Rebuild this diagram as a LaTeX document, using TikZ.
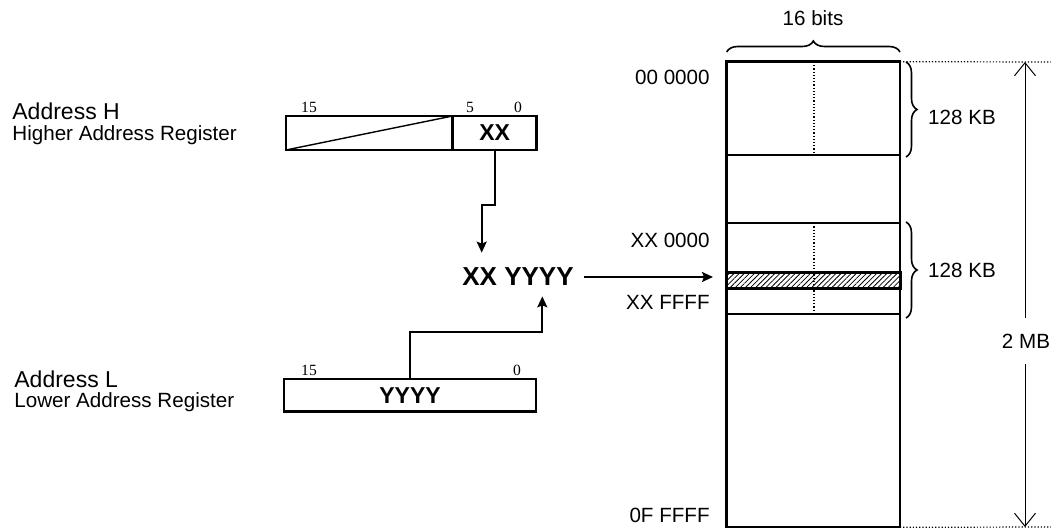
\documentclass[tikz,border=0pt]{standalone}
\usepackage{fontspec}
\setmainfont{Liberation Sans}
\newfontfamily\bitfont{Liberation Serif}
\usetikzlibrary{arrows.meta,decorations.pathreplacing,patterns.meta}
\begin{document}
\begin{tikzpicture}[x=0.5pt,y=-0.5pt,line join=miter,
  regbox/.style={draw,line width=1.4pt,inner sep=0pt,outer sep=0pt,minimum height=17pt},
  bitnum/.style={font=\bitfont\fontsize{7.8}{8}\selectfont,inner sep=1pt},
  lbl/.style={font=\fontsize{10.3}{12}\selectfont,inner sep=1pt},
  big/.style={font=\fontsize{11.5}{13}\selectfont\bfseries},
  arr/.style={line width=1pt,-{Stealth[length=5.5pt,width=5pt,inset=1pt]}},
  dimarr/.style={line width=0.5pt,{Straight Barb[length=6.5pt,width=10.5pt]}-{Straight Barb[length=6.5pt,width=10.5pt]}},
  brc/.style={decorate,decoration={brace,amplitude=5.5pt},line width=0.8pt},
  memdots/.style={densely dotted,line width=0.6pt},
  memline/.style={line width=0.9pt}]
  \useasboundingbox (0,0) rectangle (1051,529);
  \node[lbl,anchor=base west,font=\fontsize{11.5}{13}\selectfont] (hname) at (10,120) {Address H};
  \node[lbl,anchor=base west] (hdesc) at (10,141) {Higher Address Register};
  \node[lbl,anchor=base west,font=\fontsize{11.5}{13}\selectfont] (lname) at (12,388) {Address L};
  \node[lbl,anchor=base west] (ldesc) at (12,408) {Lower Address Register};
  \node[regbox,minimum width=83.3pt] (hhi) at (369.3,133) {};
  \node[regbox,big,minimum width=42pt] (xx) at (494.7,133) {XX};
  \draw[line width=0.7pt] (hhi.south west) -- (hhi.north east);
  \node[bitnum] (h15) at (309,107) {15};
  \node[bitnum] (h5) at (470,107) {5};
  \node[bitnum] (h0) at (518,107) {0};
  \node[regbox,big,minimum width=126pt,minimum height=16.3pt] (lo) at (410,395.3) {YYYY};
  \node[bitnum] (l15) at (309,370) {15};
  \node[bitnum] (l0) at (517,370) {0};
  \node[font=\fontsize{13}{15}\selectfont\bfseries,inner xsep=5pt,inner ysep=5pt] (sum) at (518,277) {XX YYYY};
  \draw[arr] (xx.south) -- ++(0,55) -| ([xshift=-18.15pt,yshift=2.5pt]sum.north);
  \draw[arr] (lo.north) -- ++(0,-47.3) -| ([xshift=12.15pt]sum.south);
  \node[draw,line width=1.2pt,inner sep=0pt,outer sep=0pt,minimum width=86.67pt,minimum height=232.8pt] (mem) at (813.3,294.5) {};
  \draw[memline] (726.7,155) -- (900,155);
  \draw[memline] (726.7,223.3) -- (900,223.3);
  \draw[memline] (726.7,314) -- (900,314);
  \draw[memdots] (814,62) -- (814,155);
  \draw[memdots] (814,223.3) -- (814,314);
  \node[draw,line width=1.3pt,inner sep=0pt,outer sep=0pt,minimum width=87pt,minimum height=7.8pt,
    pattern={Lines[angle=45,distance=1.8pt,line width=0.4pt]}] (band) at (814,280.5) {};
  \draw[arr,shorten >=7pt] (sum.east) -- (sum.east -| band.west);
  \node[lbl,anchor=east] (a00) at (712,77) {00 0000};
  \node[lbl,anchor=east] (ax0) at (712,240) {XX 0000};
  \node[lbl,anchor=east] (axf) at (712,302) {XX FFFF};
  \node[lbl,anchor=east] (a0f) at (712,515) {0F FFFF};
  \node[lbl] (bits) at (813,18) {16 bits};
  \draw[brc] (726.7,52) -- (900,52);
  \draw[brc] (906,62) -- (906,157);
  \draw[brc] (906,222) -- (906,318);
  \node[lbl] (kb1) at (962,117) {128 KB};
  \node[lbl] (kb2) at (962,270) {128 KB};
  \coordinate (dtop) at (1025,62);
  \coordinate (dbot) at (1025,527);
  \coordinate (etop) at (1051,62);
  \coordinate (ebot) at (1051,527);
  \draw[memdots] (mem.north east) -- (etop);
  \draw[memdots] (mem.south east) -- (ebot);
  \draw[dimarr] (dtop) -- (dbot);
  \node[lbl,fill=white,inner ysep=8pt] (mb) at (1026,341) {2 MB};
\end{tikzpicture}
\end{document}
